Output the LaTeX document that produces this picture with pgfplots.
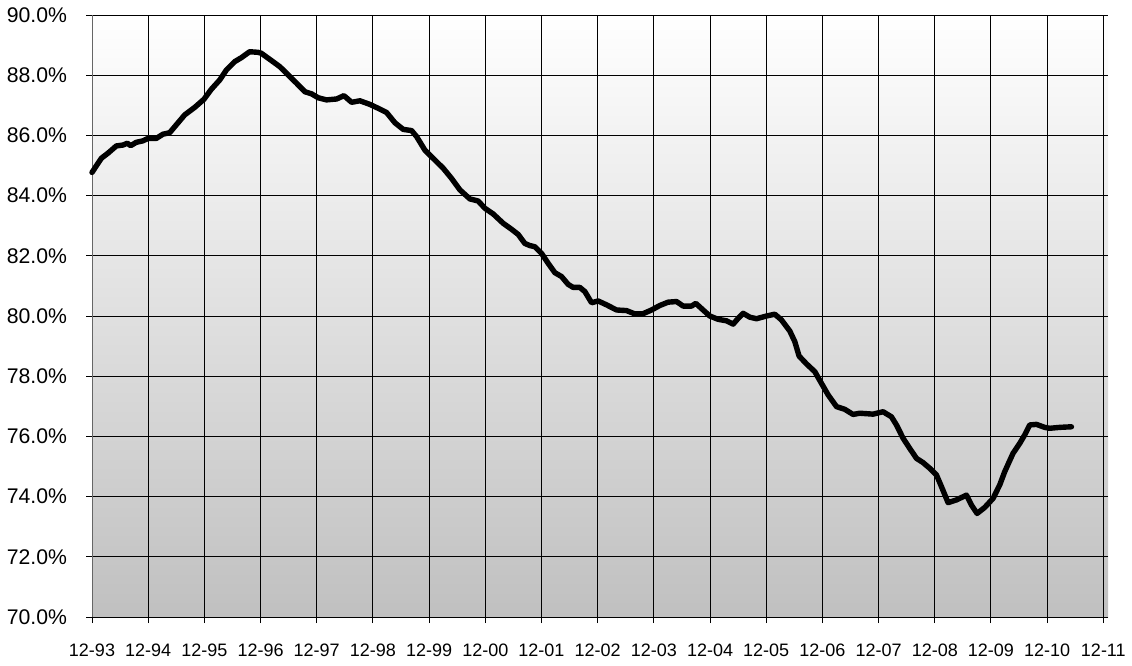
\documentclass[border=0pt]{standalone}
\usepackage{fontspec}
\setmainfont{Liberation Sans}
\usepackage{pgfplots}
\pgfplotsset{compat=1.18}
\definecolor{bgbot}{RGB}{192,192,192}
\begin{document}
\begin{tikzpicture}
\begin{axis}[
  scale only axis,
  width=508pt, height=301pt,
  xmin=0, xmax=217, ymin=70, ymax=90,
  axis x line*=bottom, axis y line*=left,
  x axis line style={-, black, line width=0.5pt},
  y axis line style={-, black!60, line width=0.5pt},
  xtick={0,12,...,216},
  xticklabels={12-93,12-94,12-95,12-96,12-97,12-98,12-99,12-00,12-01,12-02,12-03,12-04,12-05,12-06,12-07,12-08,12-09,12-10,12-11},
  ytick={70,72,...,90},
  yticklabel={\pgfmathprintnumber[fixed,fixed zerofill,precision=1]{\tick}\%},
  /pgf/number format/assume math mode=true,
  tick align=outside, major tick length=3pt,
  tick style={black, line width=0.5pt},
  grid=major,
  major grid style={black, line width=0.5pt},
  x tick label style={font=\fontsize{9}{11}\selectfont, yshift=-7pt},
  y tick label style={font=\fontsize{10.6}{12}\selectfont, xshift=-6pt},
  axis background/.style={shade, top color=white, bottom color=bgbot},
  clip=false,
]
\addplot[black, line width=2.7pt, line join=round, line cap=round] coordinates {
(0,84.77) (1.99,85.24) (3.42,85.41) (5.19,85.65) (6.62,85.68) (7.54,85.74) (8.26,85.66) (9.46,85.77) (10.89,85.82) (11.96,85.90) (13.73,85.90) (15.16,86.04) (16.59,86.09) (18.0,86.35) (19.79,86.68) (21.93,86.93) (23.91,87.20) (25.47,87.53) (27.27,87.84) (28.68,88.17) (30.47,88.45) (31.88,88.58) (33.67,88.78) (35.44,88.76) (36.15,88.73) (38.65,88.45) (40.14,88.28) (41.57,88.06) (43.71,87.73) (45.48,87.45) (46.91,87.38) (48.32,87.25) (50.11,87.18) (52.25,87.21) (53.81,87.32) (55.45,87.10) (57.22,87.15) (59.36,87.03) (61.13,86.90) (62.92,86.76) (64.70,86.42) (66.47,86.20) (68.26,86.16) (69.33,85.96) (71.10,85.51) (73.24,85.18) (75.01,84.91) (76.80,84.57) (78.58,84.19) (80.71,83.89) (82.48,83.82) (83.91,83.58) (85.69,83.39) (87.82,83.08) (89.62,82.88) (91.02,82.71) (92.45,82.41) (93.52,82.34) (94.59,82.30) (96.02,82.08) (97.43,81.75) (98.86,81.44) (100.29,81.31) (101.70,81.05) (102.77,80.95) (104.20,80.95) (105.27,80.81) (106.70,80.44) (108.11,80.50) (109.90,80.37) (112.04,80.20) (114.17,80.18) (115.94,80.07) (117.59,80.07) (119.51,80.20) (121.28,80.35) (123.05,80.46) (124.85,80.48) (126.26,80.33) (128.05,80.33) (128.96,80.42) (130.52,80.20) (131.95,80.00) (133.73,79.89) (135.52,79.84) (136.93,79.73) (138.0,79.92) (139.07,80.09) (140.50,79.96) (141.93,79.91) (144.06,80.00) (145.83,80.06) (147.26,79.87) (149.04,79.50) (150.10,79.15) (151.02,78.67) (152.60,78.41) (154.38,78.15) (155.81,77.76) (157.22,77.38) (159.01,76.99) (160.78,76.90) (162.55,76.73) (163.98,76.77) (166.82,76.74) (168.96,76.82) (170.75,76.65) (171.82,76.38) (173.23,75.94) (174.66,75.60) (176.09,75.27) (177.50,75.13) (178.93,74.94) (180.36,74.72) (181.43,74.33) (182.84,73.80) (184.63,73.89) (186.77,74.05) (187.83,73.72) (189.03,73.44) (190.67,73.64) (192.45,73.94) (193.88,74.39) (194.94,74.83) (196.72,75.44) (198.15,75.77) (199.21,76.05) (200.28,76.38) (201.71,76.40) (203.49,76.30) (204.55,76.27) (206.69,76.30) (209.19,76.32)
};
\end{axis}
\pgfresetboundingbox
\path[use as bounding box] ([shift={(-46pt,-24pt)}]current axis.south west) rectangle ([shift={(12pt,7.5pt)}]current axis.north east);
\end{tikzpicture}
\end{document}
